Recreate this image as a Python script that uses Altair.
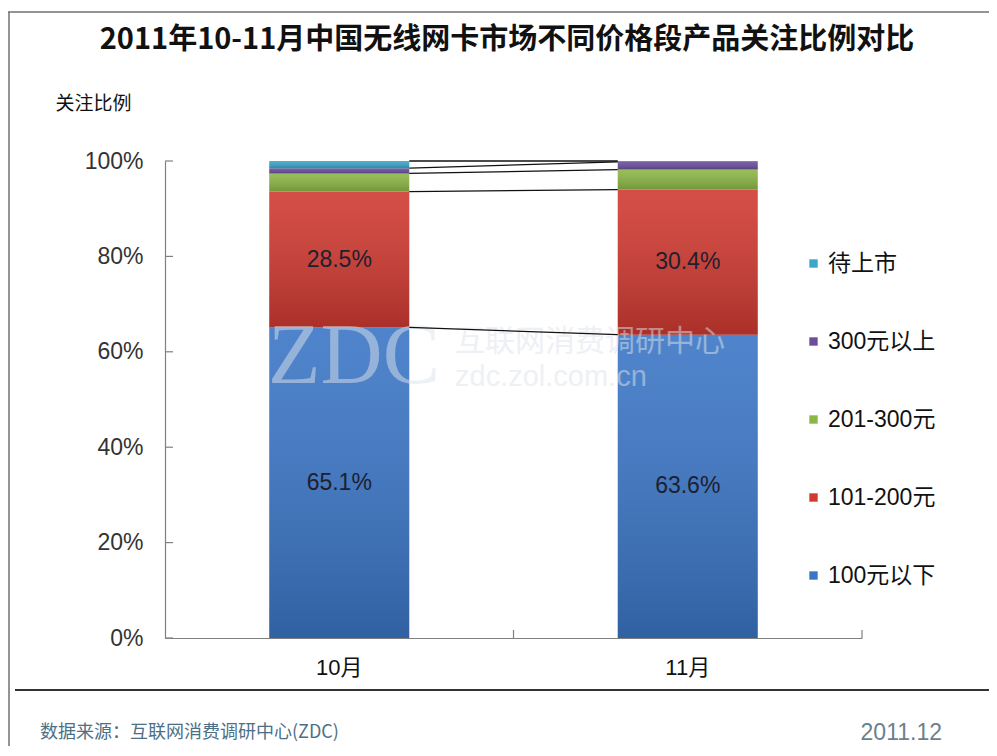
import altair as alt
import pandas as pd

# ---------------- data ----------------
months = ["10月", "11月"]
series = ["100元以下", "101-200元", "201-300元", "300元以上", "待上市"]
colors = ["#3B76C6", "#CF3A31", "#8CB646", "#6A4E9B", "#3AA7C9"]
oct_vals = [65.1, 28.5, 3.8, 1.1, 1.5]
nov_vals = [63.6, 30.4, 4.2, 1.6, 0.2]
labeled_series = ["100元以下", "101-200元"]
y_ticks = [0, 20, 40, 60, 80, 100]

title_text = "2011年10-11月中国无线网卡市场不同价格段产品关注比例对比"
y_title = "关注比例"
source_text = "数据来源：互联网消费调研中心(ZDC)"
date_text = "2011.12"
wm_logo = "ZDC"
wm_name = "互联网消费调研中心"
wm_url = "zdc.zol.com.cn"

# ---------------- layout ----------------
W, H = 697, 477
PAD = {"left": 157, "top": 153, "right": 127, "bottom": 108}
CJK = "Noto Sans CJK SC"
LAT = "Liberation Sans"

rows = []
for m, vals in zip(months, [oct_vals, nov_vals]):
    cum = 0.0
    for i, (s, v) in enumerate(zip(series, vals)):
        rows.append(dict(month=m, series=s, value=v, y0=cum, y1=cum + v,
                         mid=cum + v / 2, order=i,
                         label=f"{v:.1f}%" if s in labeled_series else ""))
        cum += v
df = pd.DataFrame(rows)

line_rows = []
co, cn = 0.0, 0.0
for i in range(len(series)):
    co += oct_vals[i]
    cn += nov_vals[i]
    line_rows.append(dict(m1=months[0], m2=months[1], a=co, b=cn))
lines_df = pd.DataFrame(line_rows)

xscale = alt.Scale(domain=months, paddingInner=0, paddingOuter=0)
yscale = alt.Scale(domain=[0, 100], nice=False, zero=True)

xaxis = alt.Axis(tickSize=0, domainColor="#808080", domainWidth=1.2,
                 labelFontSize=22, labelFont=f"{LAT}, {CJK}", labelColor="#111",
                 labelPadding=19, labelAngle=0, grid=False, title=None)
yaxis = alt.Axis(values=y_ticks, labelExpr="datum.value + '%'", tickSize=0,
                 grid=False, domainColor="#808080", domainWidth=1.2,
                 labelFontSize=23, labelFont=LAT, labelColor="#333",
                 labelPadding=22, labelFlush=False, labelOverlap=False,
                 title=y_title, titleAngle=0, titleX=-110, titleY=-58,
                 titleAlign="left", titleBaseline="middle", titleFontSize=19,
                 titleFontWeight="normal", titleFont=CJK, titleColor="#111")

def X(field, **kw):
    return alt.X(field, type="nominal", scale=xscale, axis=xaxis, title=None, **kw)

def Y(field):
    return alt.Y(field, type="quantitative", scale=yscale, axis=yaxis, title=y_title)

bars = alt.Chart(df).mark_bar(size=140).encode(
    x=X("month"),
    y=Y("y0"),
    y2="y1",
    color=alt.Color("series:N",
                    scale=alt.Scale(domain=series[::-1], range=colors[::-1]),
                    legend=alt.Legend(orient="none", legendX=637, legendY=91,
                                      title=None, symbolType="square",
                                      symbolSize=70, symbolStrokeWidth=0,
                                      labelFontSize=23,
                                      labelFont=f"{LAT}, {CJK}",
                                      labelColor="#111", rowPadding=54,
                                      labelOffset=3)),
)

shade_grad = alt.LinearGradient(
    gradient="linear",
    stops=[alt.GradientStop(color="rgba(255,255,255,0.10)", offset=0),
           alt.GradientStop(color="rgba(0,0,0,0.18)", offset=1)],
    x1=0, x2=0, y1=0, y2=1)
shade = alt.Chart(df).mark_bar(size=140, fill=shade_grad).encode(
    x=X("month"), y=Y("y0"), y2="y1")

wm_color = "#dde3ea"
wm_op = 0.5
wm1 = alt.Chart(pd.DataFrame({"t": [wm_logo]})).mark_text(
    font="Liberation Serif", fontSize=86, align="center", baseline="alphabetic",
    color=wm_color, opacity=wm_op).encode(text="t:N", x=alt.value(189), y=alt.value(222))
wm2 = alt.Chart(pd.DataFrame({"t": [wm_name]})).mark_text(
    font=CJK, fontSize=30, align="left", baseline="middle",
    color=wm_color, opacity=wm_op).encode(text="t:N", x=alt.value(290), y=alt.value(181))
wm3 = alt.Chart(pd.DataFrame({"t": [wm_url]})).mark_text(
    font=LAT, fontSize=29, align="left", baseline="middle",
    color=wm_color, opacity=wm_op).encode(text="t:N", x=alt.value(290), y=alt.value(216))

series_lines = alt.Chart(lines_df).mark_rule(
    color="#111", strokeWidth=1.3, xOffset=70, x2Offset=-70).encode(
    x=X("m1"), x2="m2:N", y=Y("a"), y2="b:Q")

labels = alt.Chart(df).transform_filter("datum.label != ''").mark_text(
    font=LAT, fontSize=23, color="#1e2030").encode(
    x=X("month"), y=Y("mid"), text="label:N")

yticks = alt.Chart(pd.DataFrame({"v": y_ticks})).mark_rule(
    color="#808080", strokeWidth=1.2).encode(
    y=Y("v"), x=alt.value(0), x2=alt.value(8))
xticks = alt.Chart(pd.DataFrame({"month": months})).mark_rule(
    color="#808080", strokeWidth=1.2).encode(
    x=X("month", bandPosition=1), y=alt.value(H), y2=alt.value(H - 8))

one = pd.DataFrame({"k": [0]})
border_top = alt.Chart(one).mark_rule(color="#707070", strokeWidth=1.5).encode(
    x=alt.value(-157), x2=alt.value(W + PAD["right"]), y=alt.value(-149))
border_left = alt.Chart(one).mark_rule(color="#707070", strokeWidth=1.5).encode(
    x=alt.value(-156), y=alt.value(-149), y2=alt.value(H + PAD["bottom"]))
footer_line = alt.Chart(one).mark_rule(color="#333", strokeWidth=2.2).encode(
    x=alt.value(-150), x2=alt.value(W + PAD["right"]), y=alt.value(529))

title = alt.Chart(pd.DataFrame({"t": [title_text]})).mark_text(
    font=CJK, fontSize=29, fontWeight="bold", align="center", baseline="middle",
    color="#111").encode(text="t:N", x=alt.value(342), y=alt.value(-121))
source = alt.Chart(pd.DataFrame({"t": [source_text]})).mark_text(
    font=CJK, fontSize=18, align="left", baseline="middle",
    color="#4d6f86").encode(text="t:N", x=alt.value(-125), y=alt.value(572))
date = alt.Chart(pd.DataFrame({"t": [date_text]})).mark_text(
    font=LAT, fontSize=23, align="right", baseline="middle",
    color="#6c7f8c").encode(text="t:N", x=alt.value(777), y=alt.value(572))

chart = alt.layer(
    border_top, border_left, bars, shade, wm1, wm2, wm3, series_lines, labels,
    yticks, xticks, footer_line, title, source, date,
).properties(
    width=W, height=H,
    autosize=alt.AutoSizeParams(type="none"),
    padding=PAD,
).configure_view(stroke=None)

chart.save("out.html", embed_options={"renderer": "svg", "actions": False})
